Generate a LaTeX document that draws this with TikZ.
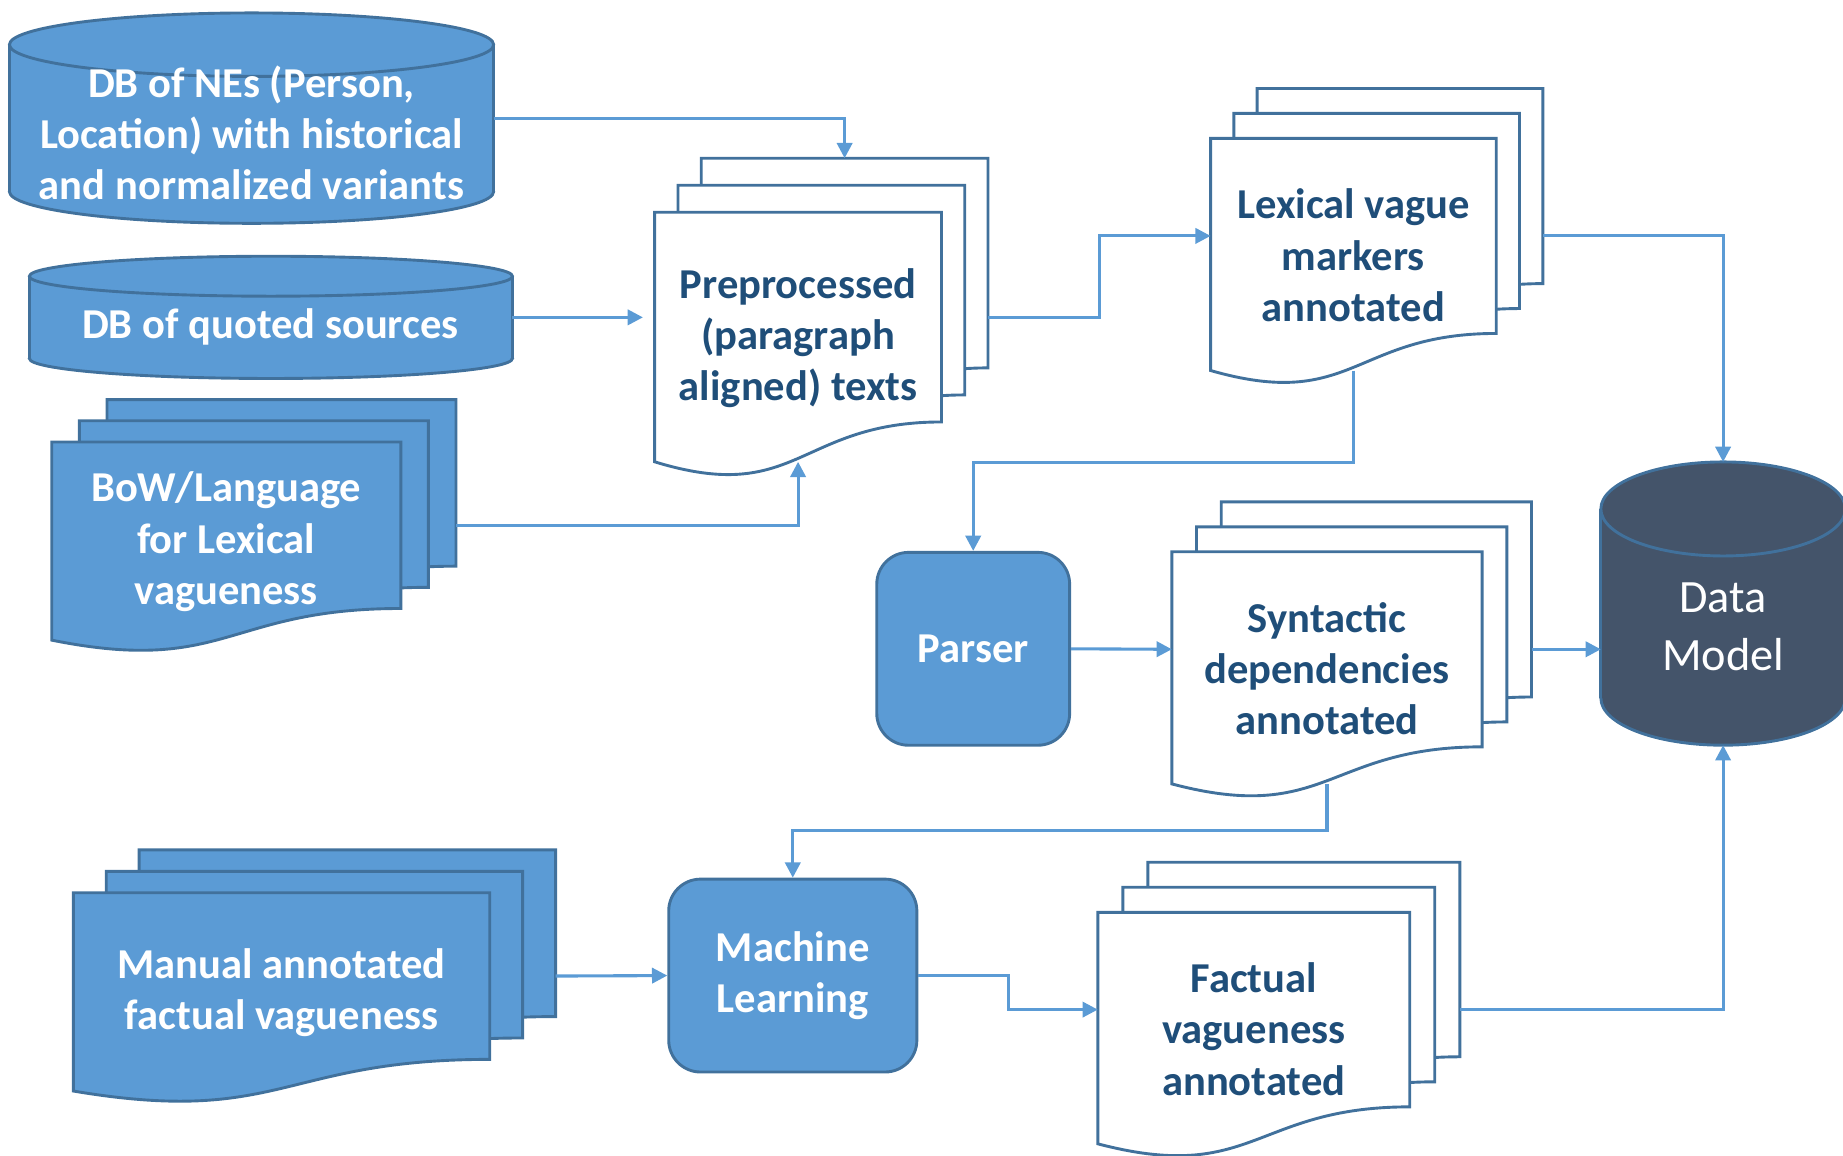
\documentclass[tikz,border=0pt]{standalone}
\usepackage{fontspec}
\setmainfont{Carlito}
\usetikzlibrary{arrows.meta}

\definecolor{shapeblue}{HTML}{5B9BD5}
\definecolor{edgeblue}{HTML}{41719C}
\definecolor{darkblue}{HTML}{1F4E79}
\definecolor{slate}{HTML}{44546A}

\newcommand{\boxfont}{\bfseries\fontsize{10.3}{12.4}\selectfont}

% one page of a document symbol: x0, top, x1, R, style
\newcommand{\docpage}[5]{%
  \draw[#5] (#1,#2) -- (#3,#2) -- (#3,{#2+#4})
    .. controls ({(#1+#3)/2},{#2+#4}) and ({(#1+#3)/2},{#2+1.40*#4}) .. (#1,{#2+1.19*#4}) -- cycle;
}

% stack of three pages: name, style, x0, top, x1, R, dx, dy, text
\newcommand{\multidoc}[9]{%
  \foreach \i in {2,1,0} {\docpage{#3+\i*#7}{#4-\i*#8}{#5+\i*#7}{#6}{#2}}
  \node[#2 text] (#1) at ({(#3+#5)/2},{#4+0.6*#6}) {#9};
  \coordinate (#1-west) at (#3,{#4+0.5*#6});
  \coordinate (#1-east) at ({#5+2*#7},{#4+0.5*#6});
  \coordinate (#1-top) at ({(#3+#5)/2+2*#7},{#4-2*#8});
  \coordinate (#1-south) at ({(#3+#5)/2},{#4+1.19*#6});
}

% database cylinder: x0, x1, top, bottom, ry, style
\newcommand{\dbcyl}[6]{%
  \draw[#6] ({(#1+#2)/2},#4) ellipse [x radius={(#2-#1)/2}, y radius=#5];
  \fill[#6, draw=none] (#1,#3) rectangle (#2,#4);
  \draw[#6, fill=none] (#1,#3) -- (#1,#4) (#2,#3) -- (#2,#4);
  \draw[#6] ({(#1+#2)/2},#3) ellipse [x radius={(#2-#1)/2}, y radius=#5];
}

\begin{document}
\begin{tikzpicture}[x=0.01cm, y=-0.01cm,
    conn/.style={draw=shapeblue, line width=0.75pt, -{Triangle[length=1.3mm, width=1.3mm]}},
    bluedoc/.style={fill=shapeblue, draw=edgeblue, line width=0.7pt},
    bluedoc text/.style={text=white, font=\boxfont, align=center},
    whitedoc/.style={fill=white, draw=edgeblue, line width=0.7pt},
    whitedoc text/.style={text=darkblue, font=\boxfont, align=center},
    procbox/.style={fill=shapeblue, draw=edgeblue, line width=0.7pt, rounded corners=0.27cm,
      text=white, font=\boxfont, align=center},
    bluedb/.style={fill=shapeblue, draw=edgeblue, line width=0.7pt},
    darkdb/.style={fill=slate, draw=edgeblue, line width=0.7pt}]
    \useasboundingbox (0,0) rectangle (1568,982.7);

    % Databases on the left
    \dbcyl{8}{420}{38}{163}{27}{bluedb}
    \node[bluedoc text] (nes) at (214,113) {DB of NEs (Person,\\Location) with historical\\and normalized variants};
    \coordinate (nes-east) at (420,100.5);

    \dbcyl{25}{436}{235}{305}{17}{bluedb}
    \node[bluedoc text] (quoted) at (230,278) {DB of quoted sources};
    \coordinate (quoted-east) at (436,270);

    % Document stacks
    \multidoc{bow}{bluedoc}{44}{376}{341}{141.7}{23.5}{18}{BoW/Language\\for Lexical\\vagueness}
    \multidoc{prep}{whitedoc}{557}{180.6}{801}{178.4}{19.8}{23}{Preprocessed\\(paragraph\\aligned) texts}
    \multidoc{lex}{whitedoc}{1030}{117.7}{1273}{166}{19.8}{21.2}{Lexical vague\\markers\\annotated}
    \multidoc{synt}{whitedoc}{997}{469.4}{1261}{166}{21}{21.2}{Syntactic\\dependencies\\annotated}
    \multidoc{manual}{bluedoc}{62.4}{759.5}{416.7}{141.8}{28}{18.2}{Manual annotated\\factual vagueness}
    \multidoc{fact}{whitedoc}{934}{776.2}{1199.4}{165.5}{21.3}{21.3}{Factual\\vagueness\\annotated}

    % Processing steps
    \node[procbox, minimum width=1.64cm, minimum height=1.64cm] (parser) at (828,552) {Parser};
    \node[procbox, minimum width=2.11cm, minimum height=1.64cm] (ml) at (674.5,830) {Machine\\Learning};

    % Data model
    \dbcyl{1362}{1570}{433}{594}{40}{darkdb}
    \node[text=white, font=\fontsize{11.2}{14}\selectfont, align=center] (model) at (1466,533) {Data\\Model};
    \coordinate (model-top) at (1466,393);
    \coordinate (model-west) at (1362,513);
    \coordinate (model-bottom) at (1466,634);

    % Connectors
    \draw[conn] (nes-east) -| (prep-top);
    \draw[conn, shorten >=1mm] (quoted-east) -- (quoted-east -| prep-west);
    \draw[conn] (bow-east) -| (prep-south);
    \draw[conn] (prep-east) -- ++(95,0) |- (lex-west);
    \draw[conn] (lex-east) -| (model-top);
    \draw[conn] (lex-south) -- ++(0,78) -| (parser.north);
    \draw[conn] (parser.east) -- (synt-west);
    \draw[conn] (synt-east) -- (synt-east -| model-west);
    \draw[conn] (synt-south) -- ++(0,40) -| (ml.north);
    \draw[conn] (manual-east) -- (ml.west);
    \draw[conn] (ml.east) -- ++(77,0) |- (fact-west);
    \draw[conn] (fact-east) -| (model-bottom);
\end{tikzpicture}
\end{document}
